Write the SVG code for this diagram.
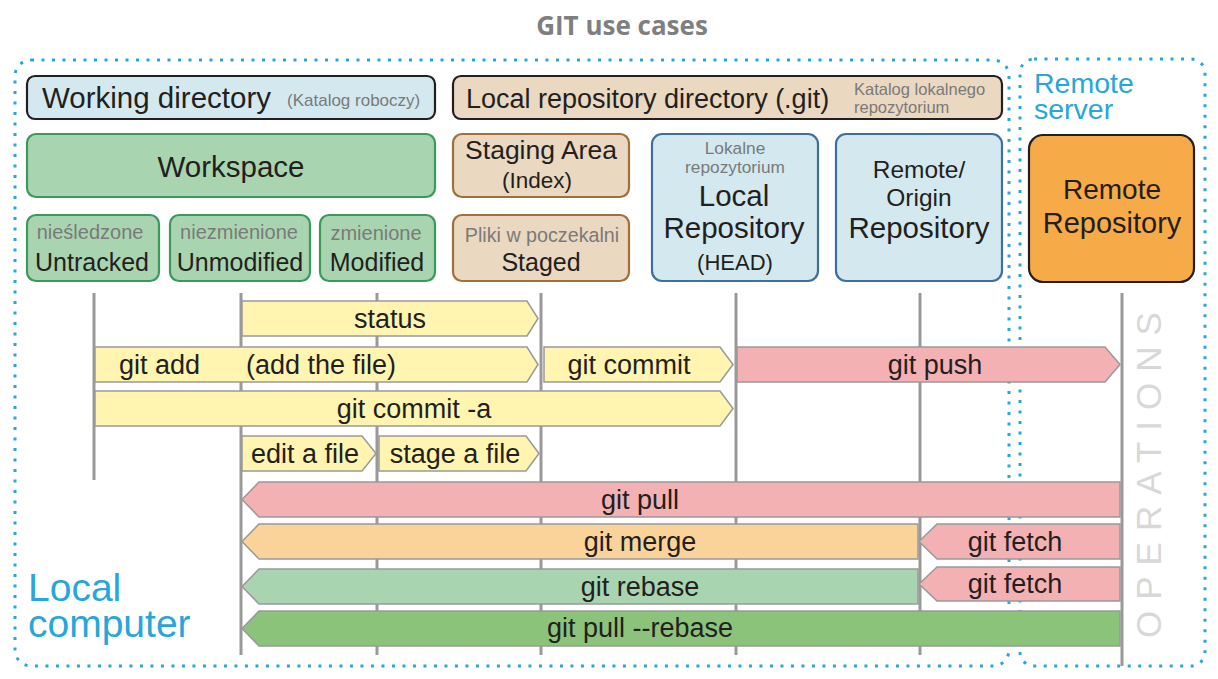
<svg xmlns="http://www.w3.org/2000/svg" width="1218" height="679" viewBox="0 0 1218 679">
<style>
text{font-family:"Liberation Sans",Arial,sans-serif;fill:#231f20}
.t{text-anchor:middle}
.g{fill:#7a7a7a}
.blue{fill:#29a6d9}
.dot{fill:none;stroke:#29a6d9;stroke-width:3;stroke-dasharray:3 7.5}
.vl{stroke:#999;stroke-width:3}
.ar{stroke:#999;stroke-width:1.5}
.y{fill:#fff5b0}.p{fill:#f3b1b4}.o{fill:#fad39a}.lg{fill:#a8d5b0}.dg{fill:#8bc37a}
.bx{stroke-width:2.2}
.al{font-size:27px}
</style>
<rect width="1218" height="679" fill="#fff"/>
<text x="622" y="35" class="t" style="font-family:'Open Sans',sans-serif;font-weight:700;font-size:26px;fill:#7f7f7f">GIT use cases</text>

<g id="local-computer">
<rect class="dot" x="15" y="60" width="994" height="606" rx="16"/>
<text x="28" y="601" class="blue" style="font-size:39px">Local</text>
<text x="28" y="637" class="blue" style="font-size:39px">computer</text>
</g>
<g id="remote-server">
<rect class="dot" x="1020" y="59" width="185" height="607" rx="14"/>
<text x="1034" y="93" class="blue" style="font-size:28.5px">Remote</text>
<text x="1034" y="119" class="blue" style="font-size:28.5px">server</text>
</g>

<g id="connectors">
<line class="vl" x1="94" y1="293" x2="94" y2="480"/>
<line class="vl" x1="241" y1="293" x2="241" y2="655"/>
<line class="vl" x1="377" y1="293" x2="377" y2="655"/>
<line class="vl" x1="541" y1="293" x2="541" y2="655"/>
<line class="vl" x1="736" y1="293" x2="736" y2="655"/>
<line class="vl" x1="920" y1="293" x2="920" y2="655"/>
<line class="vl" x1="1122" y1="293" x2="1122" y2="666"/>

<g id="op-status"><polygon class="ar y" points="242,301 527,301 538,318.5 527,336 242,336"/><text x="390" y="328" class="t al">status</text></g>
<g id="op-git-add"><polygon class="ar y" points="95,347 527,347 538,364.5 527,382 95,382"/><text x="119" y="374" class="al">git add</text><text x="246" y="374" class="al">(add the file)</text></g>
<g id="op-git-commit"><polygon class="ar y" points="544,347 720,347 733,364.5 720,382 544,382"/><text x="629" y="374" class="t al">git commit</text></g>
<g id="op-git-push"><polygon class="ar p" points="737,347 1105,347 1120,364.5 1105,382 737,382"/><text x="935" y="374" class="t al">git push</text></g>
<g id="op-git-commit-a"><polygon class="ar y" points="95,391 720,391 733,408.5 720,426 95,426"/><text x="414" y="418" class="t al">git commit -a</text></g>
<g id="op-edit"><polygon class="ar y" points="242,436 362,436 376,453.5 362,471 242,471"/><text x="305" y="463" class="t al">edit a file</text></g>
<g id="op-stage"><polygon class="ar y" points="379,436 526,436 539,453.5 526,471 379,471"/><text x="455" y="463" class="t al">stage a file</text></g>
<g id="op-git-pull"><polygon class="ar p" points="242,499.5 259,482 1120,482 1120,517 259,517"/><text x="640" y="509" class="t al">git pull</text></g>
<g id="op-git-merge"><polygon class="ar o" points="242,541.5 259,524 918,524 918,559 259,559"/><text x="640" y="551" class="t al">git merge</text></g>
<g id="op-git-fetch-1"><polygon class="ar p" points="919,541.5 937,524 1120,524 1120,559 937,559"/><text x="1015" y="551" class="t al">git fetch</text></g>
<g id="op-git-rebase"><polygon class="ar lg" points="242,586.5 259,569 918,569 918,604 259,604"/><text x="640" y="596" class="t al">git rebase</text></g>
<g id="op-git-fetch-2"><polygon class="ar p" points="919,584 937,567 1120,567 1120,601 937,601"/><text x="1015" y="593" class="t al">git fetch</text></g>
<g id="op-git-pull-rebase"><polygon class="ar dg" points="242,628.5 259,611 1120,611 1120,646 259,646"/><text x="640" y="637" class="t al">git pull --rebase</text></g>
</g>

<text transform="translate(1161,638) rotate(-90)" style="font-size:35px;fill:#d8d8d8;letter-spacing:11px">OPERATIONS</text>

<g id="working-directory">
<rect class="bx" x="27" y="76" width="408" height="43" rx="8" fill="#d3e9ef" stroke="#231f20"/>
<text x="42" y="108" style="font-size:29.5px">Working directory</text>
<text x="287" y="106" class="g" style="font-size:17px">(Katalog roboczy)</text>
</g>
<g id="local-repository-directory">
<rect class="bx" x="453" y="76" width="549" height="43" rx="8" fill="#ead8c0" stroke="#231f20"/>
<text x="466" y="108" style="font-size:27px">Local repository directory (.git)</text>
<text x="854" y="95" class="g" style="font-size:16.5px">Katalog lokalnego</text>
<text x="854" y="113" class="g" style="font-size:16.5px">repozytorium</text>
</g>
<g id="workspace">
<rect class="bx" x="27" y="134" width="408" height="63" rx="9" fill="#a8d5b0" stroke="#3a9a5c"/>
<text x="231" y="177" class="t" style="font-size:29.5px">Workspace</text>
</g>
<g id="untracked">
<rect class="bx" x="27" y="215" width="132" height="66" rx="9" fill="#a8d5b0" stroke="#3a9a5c"/>
<text x="90" y="239" class="t g" style="font-size:20px">nieśledzone</text>
<text x="92" y="271" class="t" style="font-size:25px">Untracked</text>
</g>
<g id="unmodified">
<rect class="bx" x="170" y="215" width="140" height="66" rx="9" fill="#a8d5b0" stroke="#3a9a5c"/>
<text x="239" y="239" class="t g" style="font-size:20px">niezmienione</text>
<text x="240" y="271" class="t" style="font-size:25px">Unmodified</text>
</g>
<g id="modified">
<rect class="bx" x="320" y="215" width="115" height="66" rx="9" fill="#a8d5b0" stroke="#3a9a5c"/>
<text x="376" y="240" class="t g" style="font-size:20px">zmienione</text>
<text x="377" y="271" class="t" style="font-size:25px">Modified</text>
</g>
<g id="staging-area">
<rect class="bx" x="453" y="134" width="176" height="63" rx="9" fill="#ead8c0" stroke="#a0703a"/>
<text x="541" y="159" class="t" style="font-size:26.5px">Staging Area</text>
<text x="537" y="188" class="t" style="font-size:22.5px">(Index)</text>
</g>
<g id="staged">
<rect class="bx" x="453" y="215" width="176" height="66" rx="9" fill="#ead8c0" stroke="#a0703a"/>
<text x="542" y="242" class="t g" style="font-size:19.7px">Pliki w poczekalni</text>
<text x="541" y="271" class="t" style="font-size:25px">Staged</text>
</g>
<g id="local-repository">
<rect class="bx" x="652" y="134" width="166" height="147" rx="10" fill="#d3e9ef" stroke="#3d6fa0"/>
<text x="735" y="154" class="t g" style="font-size:17.3px">Lokalne</text>
<text x="735" y="173" class="t g" style="font-size:17.3px">repozytorium</text>
<text x="734" y="206" class="t" style="font-size:29.5px">Local</text>
<text x="734" y="238" class="t" style="font-size:29.5px">Repository</text>
<text x="735" y="270" class="t" style="font-size:22px">(HEAD)</text>
</g>
<g id="remote-origin-repository">
<rect class="bx" x="836" y="134" width="166" height="147" rx="10" fill="#d3e9ef" stroke="#3d6fa0"/>
<text x="919" y="178" class="t" style="font-size:24.5px">Remote/</text>
<text x="919" y="206" class="t" style="font-size:24.5px">Origin</text>
<text x="919" y="238" class="t" style="font-size:29.5px">Repository</text>
</g>
<g id="remote-repository">
<rect class="bx" x="1029" y="135" width="165" height="147" rx="14" fill="#f6aa48" stroke="#231f20"/>
<text x="1112" y="199" class="t" style="font-size:28px">Remote</text>
<text x="1112" y="233" class="t" style="font-size:29px">Repository</text>
</g>
</svg>
